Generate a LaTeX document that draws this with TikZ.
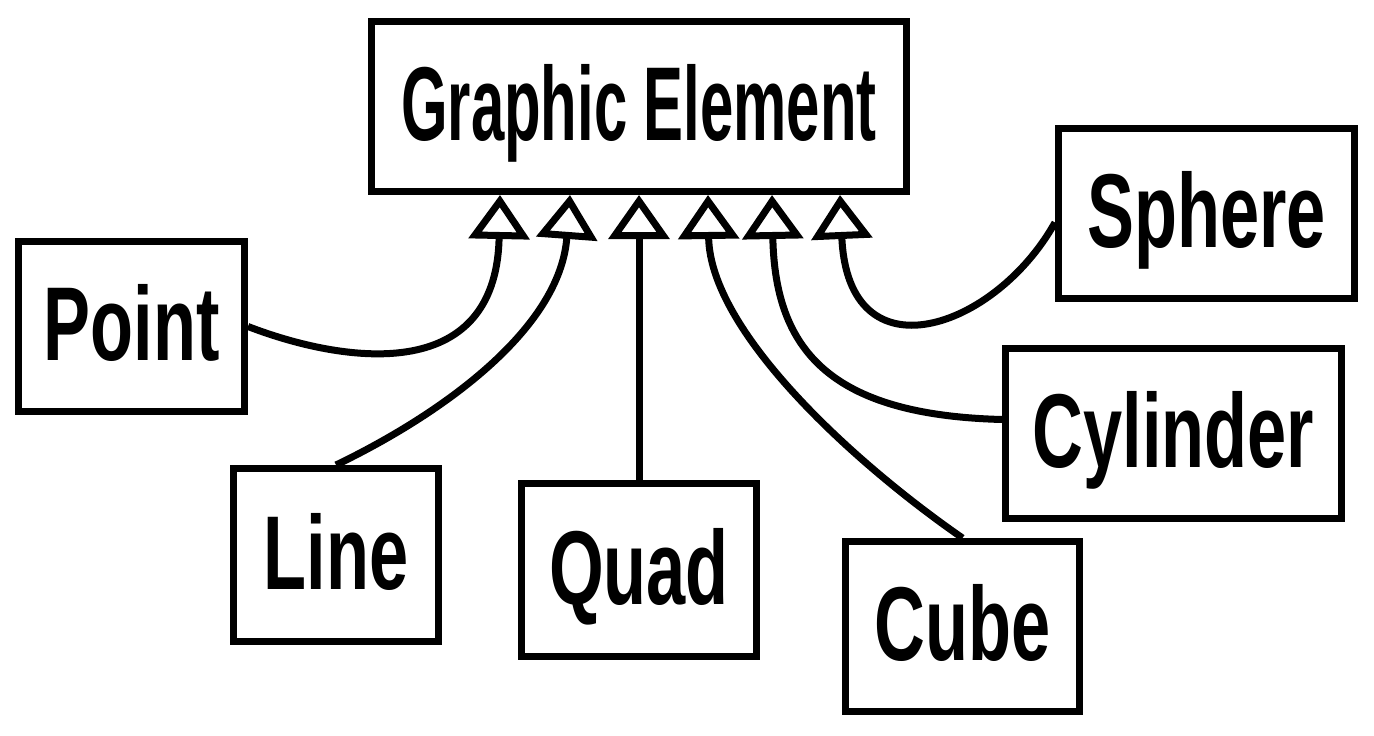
\documentclass[tikz,border=0pt]{standalone}
\usepackage{fontspec}
\newfontfamily\boxfont{Liberation Sans}[FakeStretch=0.67]
\newfontfamily\headfont{Liberation Sans}[FakeStretch=0.57]
\usetikzlibrary{arrows.meta}

\begin{document}
\begin{tikzpicture}[x=1pt,y=-1pt,
  classbox/.style={draw, line width=7pt, minimum height=170pt, inner sep=0pt,
    font=\boxfont\bfseries\fontsize{105}{105}\selectfont,
    text height=76pt, text depth=8pt},
  inherits/.style={line width=7pt, -{Triangle[open,length=44pt,width=60pt]}}]
  \useasboundingbox (0,0) rectangle (1374,736);

  % Base class
  \node[classbox, minimum width=535pt] (elem) at (639,106.5) {\headfont\bfseries Graphic Element};

  % Subclasses
  \node[classbox, minimum width=226pt] (point) at (131.5,326.5) {Point};
  \node[classbox, minimum width=205pt, minimum height=173pt] (line) at (336,555) {Line};
  \node[classbox, minimum width=235pt, minimum height=173pt] (quad) at (639,570) {Quad};
  \node[classbox, minimum width=234pt] (cube) at (962.5,626.5) {Cube};
  \node[classbox, minimum width=336pt] (cyl) at (1173.5,433.5) {Cylinder};
  \node[classbox, minimum width=296pt] (sphere) at (1206.5,213.5) {Sphere};

  % Arrow tips under the base class
  \coordinate (tpoint) at (500,195);
  \coordinate (tline) at (570,195);
  \coordinate (tquad) at (639,195);
  \coordinate (tcube) at (708,195);
  \coordinate (tcyl) at (772,195);
  \coordinate (tsphere) at (840,195);

  % Inheritance connectors
  \draw[inherits] (point.east) .. controls (340,362) and (496,388) .. (tpoint);
  \draw[inherits] (line.north) .. controls (440,415) and (560,330) .. (tline);
  \draw[inherits] (quad.north) -- (tquad);
  \draw[inherits] (cube.north) .. controls (850,460) and (710,330) .. (tcube);
  \draw[inherits] ([yshift=14pt]cyl.west) .. controls (830,415) and (775,350) .. (tcyl);
  \draw[inherits] ([yshift=-9pt]sphere.west) .. controls (995,330) and (848,380) .. (tsphere);
\end{tikzpicture}
\end{document}
